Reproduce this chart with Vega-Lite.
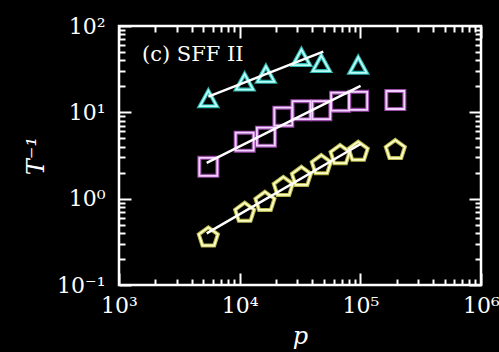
{
  "$schema": "https://vega.github.io/schema/vega-lite/v6.json",
  "width": 362,
  "height": 259,
  "autosize": {"type": "none"},
  "padding": {"left": 119, "top": 26, "right": 18, "bottom": 67},
  "background": "black",
  "config": {
    "view": {"stroke": "white", "strokeWidth": 2.5},
    "axis": {
      "domain": false,
      "grid": false,
      "labelColor": "white",
      "labelFont": "DejaVu Serif",
      "labelFontSize": 22,
      "tickColor": "white",
      "tickWidth": 2,
      "labelOverlap": false,
      "labelFlush": false,
      "titleColor": "white",
      "titleFont": "DejaVu Serif",
      "titleFontStyle": "italic",
      "titleFontWeight": "normal",
      "titleFontSize": 24
    }
  },
  "datasets": {
    "points": [
      {"series": "tri", "p": 5500, "T": 14.5},
      {"series": "tri", "p": 11000, "T": 22.6},
      {"series": "tri", "p": 16500, "T": 27.8},
      {"series": "tri", "p": 32500, "T": 43.4},
      {"series": "tri", "p": 47500, "T": 37},
      {"series": "tri", "p": 96000, "T": 35.3},
      {"series": "sq", "p": 5500, "T": 2.34},
      {"series": "sq", "p": 11000, "T": 4.57},
      {"series": "sq", "p": 16500, "T": 5.22},
      {"series": "sq", "p": 23000, "T": 8.9},
      {"series": "sq", "p": 32500, "T": 10.6},
      {"series": "sq", "p": 47500, "T": 10.6},
      {"series": "sq", "p": 68000, "T": 13.3},
      {"series": "sq", "p": 96000, "T": 13.6},
      {"series": "sq", "p": 195000, "T": 13.9},
      {"series": "pent", "p": 5500, "T": 0.356},
      {"series": "pent", "p": 11000, "T": 0.687},
      {"series": "pent", "p": 16200, "T": 0.92},
      {"series": "pent", "p": 23000, "T": 1.37},
      {"series": "pent", "p": 32500, "T": 1.79},
      {"series": "pent", "p": 47500, "T": 2.45},
      {"series": "pent", "p": 68000, "T": 3.2},
      {"series": "pent", "p": 96000, "T": 3.5},
      {"series": "pent", "p": 195000, "T": 3.66}
    ],
    "fits": [
      {"series": "tri", "p": 5500, "T": 15.2},
      {"series": "tri", "p": 49300, "T": 50.4},
      {"series": "sq", "p": 5330, "T": 2.6},
      {"series": "sq", "p": 100500, "T": 20.2},
      {"series": "pent", "p": 5330, "T": 0.396},
      {"series": "pent", "p": 100500, "T": 4.3}
    ],
    "labels": [
      {"p": 1550, "T": 46, "label": "(c) SFF II"}
    ]
  },
  "resolve": {"scale": {"color": "independent"}},
  "layer": [
    {
      "data": {"name": "points"},
      "mark": {"type": "point", "filled": false, "strokeWidth": 4, "opacity": 1, "size": 400},
      "encoding": {
        "x": {
          "field": "p", "type": "quantitative",
          "scale": {"type": "log", "domain": [1000, 1000000]},
          "axis": {
            "orient": "bottom",
            "values": [1000,2000,3000,4000,5000,6000,7000,8000,9000,10000,20000,30000,40000,50000,60000,70000,80000,90000,100000,200000,300000,400000,500000,600000,700000,800000,900000,1000000],
            "labelExpr": "datum.value == 1000 ? '10³' : datum.value == 10000 ? '10⁴' : datum.value == 100000 ? '10⁵' : datum.value == 1000000 ? '10⁶' : ''",
            "tickSize": {"condition": {"test": "indexof([1000,10000,100000,1000000], datum.value) >= 0", "value": -12}, "value": -6},
            "labelPadding": 22,
            "labelBaseline": "top",
            "title": "p",
            "titlePadding": 2
          }
        },
        "y": {
          "field": "T", "type": "quantitative",
          "scale": {"type": "log", "domain": [0.1, 100]},
          "axis": {
            "orient": "left",
            "values": [0.1,0.2,0.3,0.4,0.5,0.6,0.7,0.8,0.9,1,2,3,4,5,6,7,8,9,10,20,30,40,50,60,70,80,90,100],
            "labelExpr": "datum.value == 0.1 ? '10⁻¹' : datum.value == 1 ? '10⁰' : datum.value == 10 ? '10¹' : datum.value == 100 ? '10²' : ''",
            "tickSize": {"condition": {"test": "indexof([0.1,1,10,100], datum.value) >= 0", "value": -12}, "value": -6},
            "labelPadding": 26,
            "title": "T⁻¹",
            "titlePadding": 8
          }
        },
        "shape": {
          "field": "series", "type": "nominal",
          "scale": {"domain": ["tri", "sq", "pent"], "range": ["M0,-0.78L0.85,0.78L-0.85,0.78Z", "M-0.9,-0.9L0.9,-0.9L0.9,0.9L-0.9,0.9Z", "M0,-1L0.951,-0.309L0.588,0.809L-0.588,0.809L-0.951,-0.309Z"]},
          "legend": null
        },
        "color": {
          "field": "series", "type": "nominal",
          "scale": {"domain": ["tri", "sq", "pent"], "range": ["#2fb5b0", "#9a4aa8", "#b8b850"]},
          "legend": null
        }
      }
    },
    {
      "data": {"name": "points"},
      "mark": {"type": "point", "filled": false, "strokeWidth": 1.8, "opacity": 1, "size": 400},
      "encoding": {
        "x": {
          "field": "p", "type": "quantitative",
          "axis": {
            "orient": "top",
            "values": [1000,2000,3000,4000,5000,6000,7000,8000,9000,10000,20000,30000,40000,50000,60000,70000,80000,90000,100000,200000,300000,400000,500000,600000,700000,800000,900000,1000000],
            "labels": false,
            "tickSize": {"condition": {"test": "indexof([1000,10000,100000,1000000], datum.value) >= 0", "value": -12}, "value": -6},
            "title": null
          }
        },
        "y": {
          "field": "T", "type": "quantitative",
          "axis": {
            "orient": "right",
            "values": [0.1,0.2,0.3,0.4,0.5,0.6,0.7,0.8,0.9,1,2,3,4,5,6,7,8,9,10,20,30,40,50,60,70,80,90,100],
            "labels": false,
            "tickSize": {"condition": {"test": "indexof([0.1,1,10,100], datum.value) >= 0", "value": -12}, "value": -6},
            "title": null
          }
        },
        "shape": {
          "field": "series", "type": "nominal",
          "scale": {"domain": ["tri", "sq", "pent"], "range": ["M0,-0.78L0.85,0.78L-0.85,0.78Z", "M-0.9,-0.9L0.9,-0.9L0.9,0.9L-0.9,0.9Z", "M0,-1L0.951,-0.309L0.588,0.809L-0.588,0.809L-0.951,-0.309Z"]},
          "legend": null
        },
        "color": {
          "field": "series", "type": "nominal",
          "scale": {"domain": ["tri", "sq", "pent"], "range": ["#b8fff8", "#f2d2ff", "#ffffc8"]},
          "legend": null
        }
      }
    },
    {
      "data": {"name": "fits"},
      "mark": {"type": "line", "color": "white", "strokeWidth": 2.5},
      "encoding": {
        "x": {"field": "p", "type": "quantitative", "axis": null},
        "y": {"field": "T", "type": "quantitative", "axis": null},
        "detail": {"field": "series", "type": "nominal"}
      }
    },
    {
      "data": {"name": "labels"},
      "mark": {"type": "text", "align": "left", "baseline": "middle", "font": "DejaVu Serif", "fontSize": 21, "color": "white"},
      "encoding": {
        "x": {"field": "p", "type": "quantitative", "axis": null},
        "y": {"field": "T", "type": "quantitative", "axis": null},
        "text": {"field": "label", "type": "nominal"}
      }
    }
  ]
}
